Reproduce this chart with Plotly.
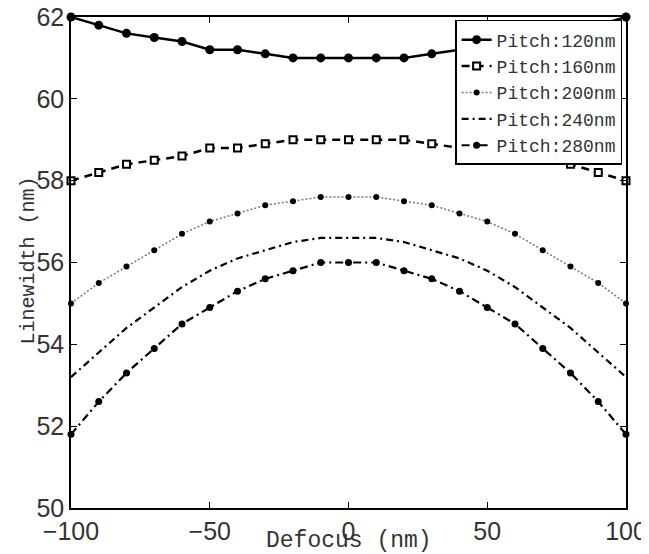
import plotly.graph_objects as go

defocus = list(range(-100, 101, 10))
pitch120 = [62.0, 61.8, 61.6, 61.5, 61.4, 61.2, 61.2, 61.1, 61.0, 61.0, 61.0, 61.0, 61.0, 61.1, 61.2, 61.2, 61.4, 61.5, 61.6, 61.8, 62.0]
pitch160 = [58.0, 58.2, 58.4, 58.5, 58.6, 58.8, 58.8, 58.9, 59.0, 59.0, 59.0, 59.0, 59.0, 58.9, 58.8, 58.8, 58.6, 58.5, 58.4, 58.2, 58.0]
pitch200 = [55.0, 55.5, 55.9, 56.3, 56.7, 57.0, 57.2, 57.4, 57.5, 57.6, 57.6, 57.6, 57.5, 57.4, 57.2, 57.0, 56.7, 56.3, 55.9, 55.5, 55.0]
pitch240 = [53.2, 53.8, 54.4, 54.9, 55.4, 55.8, 56.1, 56.3, 56.5, 56.6, 56.6, 56.6, 56.5, 56.3, 56.1, 55.8, 55.4, 54.9, 54.4, 53.8, 53.2]
pitch280 = [51.8, 52.6, 53.3, 53.9, 54.5, 54.9, 55.3, 55.6, 55.8, 56.0, 56.0, 56.0, 55.8, 55.6, 55.3, 54.9, 54.5, 53.9, 53.3, 52.6, 51.8]
names = ["Pitch:120nm", "Pitch:160nm", "Pitch:200nm", "Pitch:240nm", "Pitch:280nm"]
x_ticks = [-100, -50, 0, 50, 100]
y_ticks = [50, 52, 54, 56, 58, 60, 62]
x_title = "Defocus (nm)"
y_title = "Linewidth (nm)"

fig = go.Figure()
fig.add_trace(go.Scatter(x=defocus, y=pitch120, name=names[0], mode="lines+markers",
                         line=dict(color="black", width=2.5),
                         marker=dict(symbol="circle", size=9, color="black"), cliponaxis=False))
fig.add_trace(go.Scatter(x=defocus, y=pitch160, name=names[1], mode="lines+markers",
                         line=dict(color="black", width=2.5, dash="8px,6px"),
                         marker=dict(symbol="square", size=7, color="white", line=dict(color="black", width=2)),
                         cliponaxis=False))
fig.add_trace(go.Scatter(x=defocus, y=pitch200, name=names[2], mode="lines+markers",
                         line=dict(color="#777777", width=1.5, dash="2px,2px"),
                         marker=dict(symbol="circle", size=6, color="black"), cliponaxis=False))
fig.add_trace(go.Scatter(x=defocus, y=pitch240, name=names[3], mode="lines",
                         line=dict(color="black", width=2.2, dash="7px,4px,2px,4px"), cliponaxis=False))
fig.add_trace(go.Scatter(x=defocus, y=pitch280, name=names[4], mode="lines+markers",
                         line=dict(color="black", width=2.2, dash="8px,4px,2px,4px"),
                         marker=dict(symbol="circle", size=7, color="black"), cliponaxis=False))

axis_common = dict(showline=True, linecolor="black", linewidth=1.5, mirror="ticks",
                   ticks="inside", ticklen=6, tickcolor="black", showgrid=False, zeroline=False,
                   automargin=False, ticklabeloverflow="allow",
                   tickfont=dict(family="Liberation Sans", size=25, color="#333333"))
fig.update_xaxes(range=[-100, 100], tickvals=x_ticks,
                 ticktext=[("\u2212" + str(-v)) if v < 0 else str(v) for v in x_ticks],
                 **axis_common)
fig.update_yaxes(range=[50, 62], tickvals=y_ticks, **axis_common)

fig.add_annotation(text=x_title, xref="paper", yref="paper", x=0.5, y=0,
                   xanchor="center", yanchor="middle", yshift=-33, showarrow=False,
                   font=dict(family="Liberation Mono", size=23, color="#333333"))
fig.add_annotation(text=y_title, xref="paper", yref="paper", x=0, y=0.5,
                   xanchor="center", yanchor="middle", xshift=-43, yshift=2, textangle=-90,
                   showarrow=False,
                   font=dict(family="Liberation Mono", size=20, color="#333333"))

fig.update_layout(
    width=641, height=546,
    margin=dict(l=63, r=23, t=9, b=46),
    plot_bgcolor="white", paper_bgcolor="white",
    legend=dict(x=0.993, y=0.994, xanchor="right", yanchor="top",
                bgcolor="white", bordercolor="black", borderwidth=1.5,
                font=dict(family="Liberation Mono", size=18, color="#333333"),
                tracegroupgap=0, itemwidth=30),
    showlegend=True,
)

fig.write_html("out.html")
